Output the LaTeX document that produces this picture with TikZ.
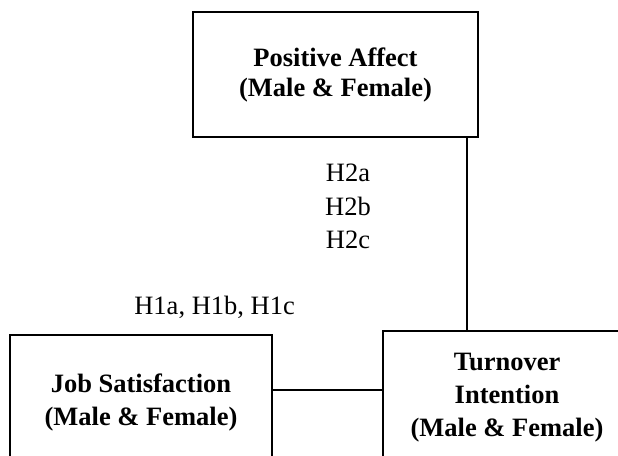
\documentclass[tikz,border=0pt]{standalone}
\usepackage{fontspec}
\setmainfont{Liberation Serif}
\begin{document}
\begin{tikzpicture}[x=1pt,y=-1pt,
  boxnode/.style={draw,line width=2pt,inner sep=0pt,align=center,
    font=\fontsize{26.5}{33.3}\selectfont\bfseries},
  hyplabel/.style={inner sep=0pt,align=center,font=\fontsize{26.5}{33.5}\selectfont},
  link/.style={line width=2pt}]
\useasboundingbox (0,0) rectangle (618,455);
\node[boxnode,font=\fontsize{26.5}{30}\selectfont\bfseries,
  minimum width=285pt,minimum height=125pt] (pos) at (335.5,74.5)
  {Positive Affect\\(Male \& Female)};
\node[boxnode,minimum width=262pt,minimum height=135pt] (job) at (141,402.5)
  {Job Satisfaction\\(Male \& Female)};
\node[boxnode,minimum width=248pt,minimum height=133pt] (turn) at (507,397.5)
  {Turnover\\Intention\\(Male \& Female)};
\node[hyplabel,anchor=north] (h2) at (348,164) {H2a\\H2b\\H2c};
\node[hyplabel,anchor=base east] (h1) at (295,314) {H1a, H1b, H1c};
\coordinate (v) at (467,0);
\coordinate (c) at (0,390);
\draw[link] (pos.south -| v) -- (turn.north -| v);
\draw[link] (job.east |- c) -- (turn.west |- c);
\end{tikzpicture}
\end{document}
